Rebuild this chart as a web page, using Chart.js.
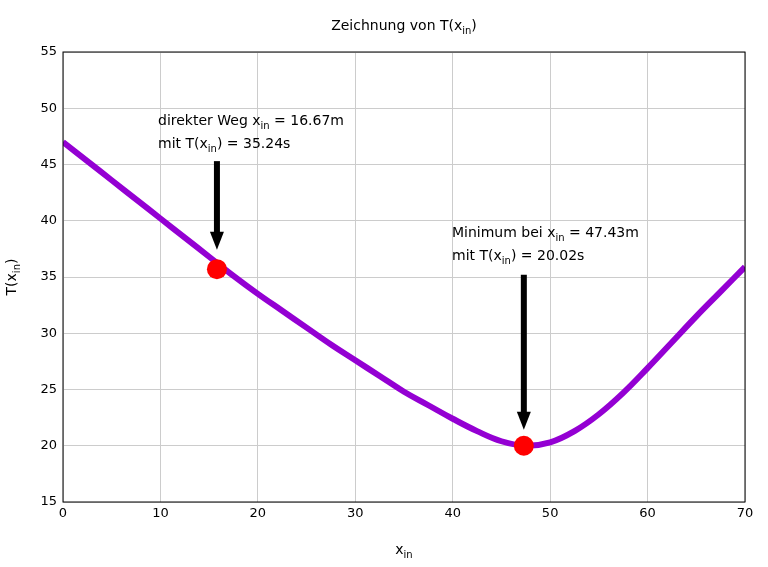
<!DOCTYPE html>
<html><head><meta charset="utf-8">
<script src="https://cdn.jsdelivr.net/npm/chart.js@4/dist/chart.umd.min.js"></script>
<style>html,body{margin:0;background:#fff}#w{width:768px;height:567px}</style>
</head><body><div id="w"><canvas id="c"></canvas></div>
<script>
const xs=[0,2.5,5,7.5,10,12.5,15,17.5,20,22.5,25,27.5,30,32.5,35,37.5,40,42.5,45,47.5,50,52.5,55,57.5,60,62.5,65,67.5,70];
const ts=[47,45.3,43.6,41.9,40.2,38.5,36.8,35.1,33.5,32,30.5,29,27.6,26.2,24.8,23.6,22.4,21.3,20.4,20,20.3,21.3,22.8,24.7,26.9,29.2,31.5,33.7,35.9];
const markX=[15.8,47.3], markY=[35.7,20.0];
const arrows=[[15.8,45.3,37.6],[47.3,35.2,21.6]];
const F='"DejaVu Sans", sans-serif';
function sub(ctx,x,y,parts,align){ // parts: [text,isSub]
  let w=0; parts.forEach(p=>{ctx.font=(p[1]?'10px ':'14px ')+F; w+=ctx.measureText(p[0]).width;});
  let cx=align==='center'?x-w/2:x;
  parts.forEach(p=>{ctx.font=(p[1]?'10px ':'14px ')+F; ctx.textAlign='left';
    ctx.fillText(p[0],cx,y+(p[1]?4:0)); cx+=ctx.measureText(p[0]).width;});
}
const deco={id:'deco',afterDatasetsDraw(ch){
  const c=ch.ctx,X=ch.scales.x,Y=ch.scales.y;
  c.save();c.fillStyle='#000';c.strokeStyle='#000';c.textBaseline='alphabetic';
  arrows.forEach(a=>{const px=X.getPixelForValue(a[0]),y1=Y.getPixelForValue(a[1]),y2=Y.getPixelForValue(a[2]);
    c.lineWidth=6;c.beginPath();c.moveTo(px,y1);c.lineTo(px,y2-12);c.stroke();
    c.beginPath();c.moveTo(px-7,y2-16);c.lineTo(px+7,y2-16);c.lineTo(px,y2+2);c.closePath();c.fill();});
  // points on top
  c.fillStyle='#ff0000';
  markX.forEach((v,i)=>{c.beginPath();c.arc(X.getPixelForValue(v),Y.getPixelForValue(markY[i]),10,0,7);c.fill();});
  c.fillStyle='#000';
  sub(c,158,125,[['direkter Weg x',0],['in',1],[' = 16.67m',0]]);
  sub(c,158,148,[['mit T(x',0],['in',1],[') = 35.24s',0]]);
  sub(c,452,237,[['Minimum bei x',0],['in',1],[' = 47.43m',0]]);
  sub(c,452,260,[['mit T(x',0],['in',1],[') = 20.02s',0]]);
  sub(c,404,30,[['Zeichnung von T(x',0],['in',1],[')',0]],'center');
  sub(c,404,554,[['x',0],['in',1]],'center');
  c.translate(16,277);c.rotate(-Math.PI/2);
  sub(c,0,0,[['T(x',0],['in',1],[')',0]],'center');
  c.restore();
  c.save();c.strokeStyle='#000';c.lineWidth=1;const a=ch.chartArea;c.strokeRect(a.left,a.top,a.right-a.left,a.bottom-a.top);c.restore();
}};
new Chart(document.getElementById('c'),{type:'scatter',
 data:{datasets:[{data:xs.map((x,i)=>({x,y:ts[i]})),showLine:true,borderColor:'#9400d3',borderWidth:6,pointRadius:0,tension:0.4,fill:false}]},
 options:{responsive:true,maintainAspectRatio:false,animation:false,
  layout:{padding:{top:52,right:23,left:0,bottom:0}},
  plugins:{legend:{display:false},tooltip:{enabled:false}},
  scales:{
   x:{type:'linear',min:0,max:70,afterFit:s=>{s.height=65;},
      ticks:{stepSize:10,color:'#000',font:{family:F,size:13},padding:4},
      grid:{color:'#ccc',borderDash:[2,2],tickLength:0},border:{display:false}},
   y:{min:15,max:55,afterFit:s=>{s.width=63;},
      ticks:{stepSize:5,color:'#000',font:{family:F,size:13},padding:6},
      grid:{color:'#ccc',borderDash:[2,2],tickLength:0},border:{display:false}}
  }},plugins:[deco]});
</script></body></html>
